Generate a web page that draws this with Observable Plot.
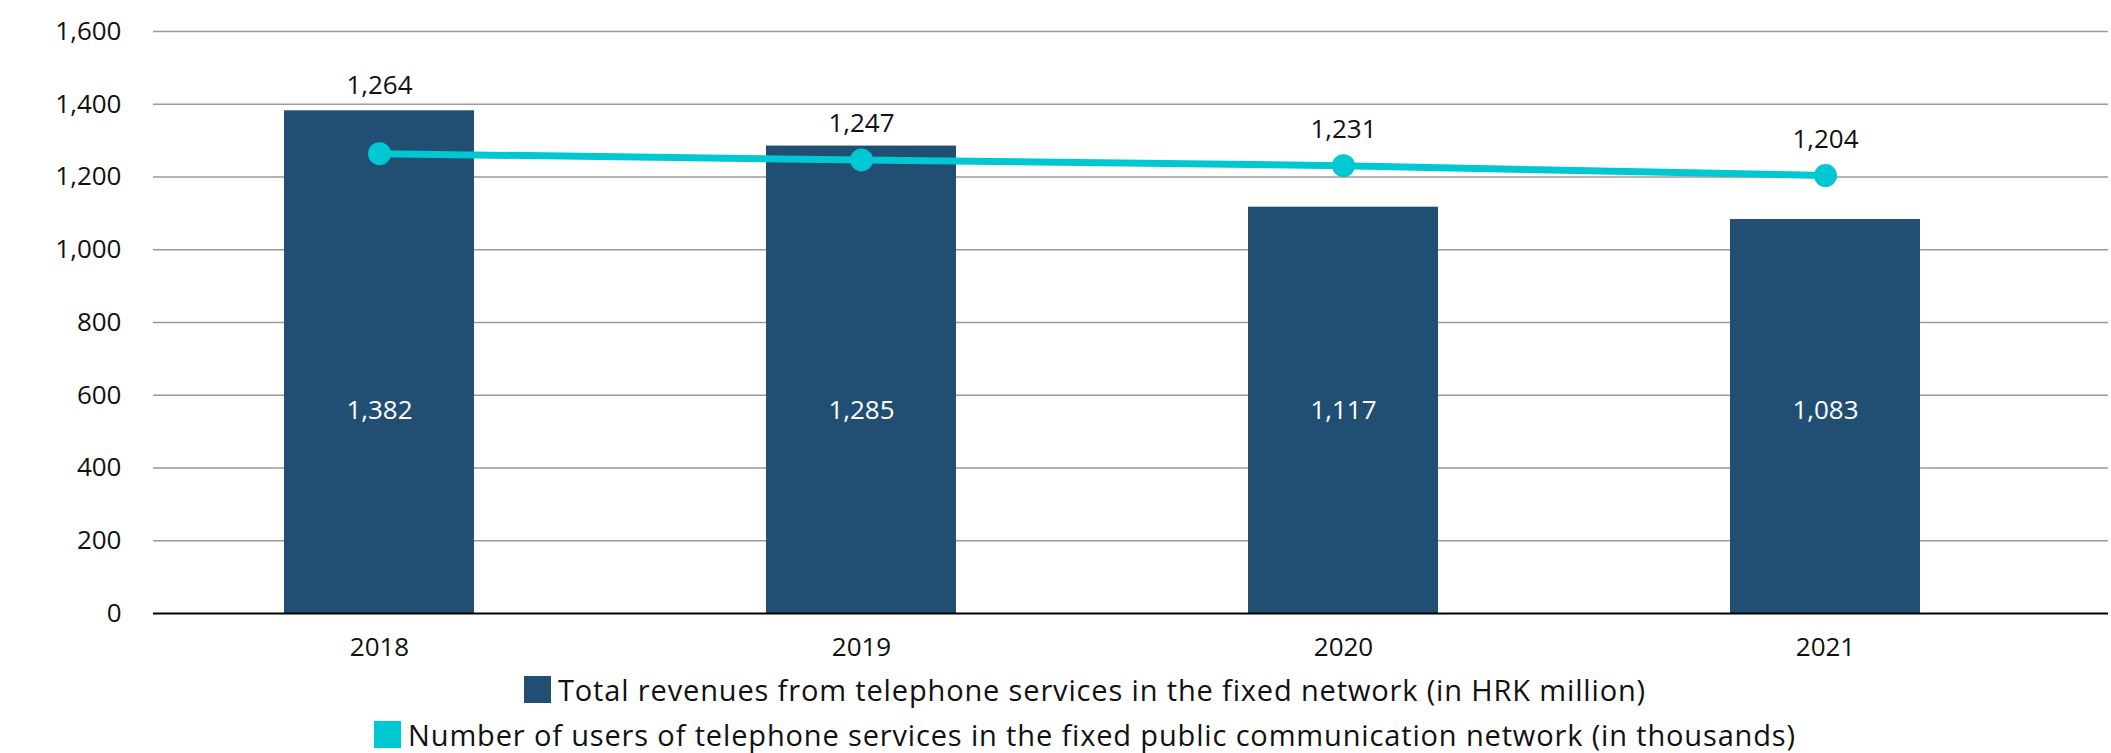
<!DOCTYPE html>
<html>
<head>
<meta charset="utf-8">
<script src="https://cdn.jsdelivr.net/npm/d3@7"></script>
<script src="https://cdn.jsdelivr.net/npm/@observablehq/plot@0.6"></script>
<style>
  html, body { margin: 0; padding: 0; background: #fff; }
  body { width: 2111px; font-family: "Open Sans", sans-serif; }
  #chart svg { display: block; }
  .legend { display: flex; flex-direction: column; align-items: center; padding-left: 59px; margin-top: 2px; }
  .legend .row { display: flex; align-items: center; height: 45px; font-size: 29px; letter-spacing: 0.85px; color: #111; white-space: nowrap; }
  .legend .sw { width: 27px; height: 27px; margin-right: 7px; flex: none; }
</style>
</head>
<body>
<div id="chart"></div>
<div class="legend" id="legend"></div>
<script>
const years = ["2018", "2019", "2020", "2021"];
const revenues = [1382, 1285, 1117, 1083];
const users = [1264, 1247, 1231, 1204];
const yTicks = [0, 200, 400, 600, 800, 1000, 1200, 1400, 1600];
const seriesNames = [
  "Total revenues from telephone services in the fixed network (in HRK million)",
  "Number of users of telephone services in the fixed public communication network (in thousands)"
];
const colors = ["#214E73", "#00C8D2"];

const data = years.map((year, i) => ({year, revenue: revenues[i], users: users[i]}));
const fmt = d3.format(",");

const chart = Plot.plot({
  width: 2111,
  height: 665,
  marginLeft: 153,
  marginRight: 3,
  marginTop: 31,
  marginBottom: 52,
  style: {fontFamily: "'Open Sans', sans-serif", fontSize: "26px", color: "#111", background: "#fff"},
  x: {type: "band", domain: years, range: [284, 1920], paddingInner: 0.606, paddingOuter: 0, align: 0.5},
  y: {domain: [0, 1600]},
  marks: [
    Plot.ruleY(yTicks.filter(v => v > 0), {stroke: "#9a9a9a", strokeWidth: 1.5}),
    Plot.barY(data, {x: "year", y: "revenue", fill: colors[0]}),
    Plot.ruleY([0], {stroke: "#000", strokeWidth: 2}),
    Plot.line(data, {x: "year", y: "users", stroke: colors[1], strokeWidth: 7}),
    Plot.dot(data, {x: "year", y: "users", r: 11.5, fill: colors[1], stroke: "none"}),
    Plot.text(data, {x: "year", text: d => fmt(d.revenue), frameAnchor: "bottom", dy: -195, fill: "#fff", fontSize: 26}),
    Plot.text(data.filter(d => d.revenue <= d.users + 100), {x: "year", y: "users", text: d => fmt(d.users), dy: -36, fill: "#111", fontSize: 26}),
    Plot.text(data.filter(d => d.revenue > d.users + 100), {x: "year", y: "revenue", text: d => fmt(d.users), dy: -25, fill: "#111", fontSize: 26}),
    Plot.axisY({ticks: yTicks, tickFormat: fmt, tickSize: 0, tickPadding: 32, label: null}),
    Plot.axisX({tickSize: 0, tickPadding: 24, label: null})
  ]
});
document.getElementById("chart").appendChild(chart);

const legend = document.getElementById("legend");
seriesNames.forEach((name, i) => {
  const row = document.createElement("div");
  row.className = "row";
  const sw = document.createElement("span");
  sw.className = "sw";
  sw.style.background = colors[i];
  const t = document.createElement("span");
  t.textContent = name;
  row.appendChild(sw);
  row.appendChild(t);
  legend.appendChild(row);
});
</script>
</body>
</html>
